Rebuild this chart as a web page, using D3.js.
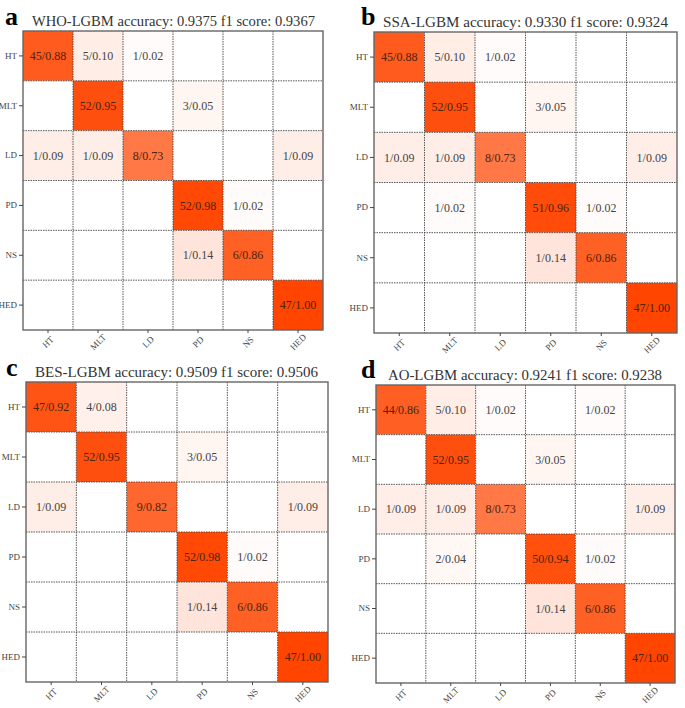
<!DOCTYPE html>
<html>
<head>
<meta charset="utf-8">
<title>LGBM confusion matrices</title>
<script src="https://cdn.jsdelivr.net/npm/d3@7/dist/d3.min.js"></script>
<style>
  body { margin: 0; background: #fff; }
  svg { display: block; }
</style>
</head>
<body>
<svg id="chart" width="685" height="708"></svg>
<script>
// class labels, shared by every panel
const classes = ["HT", "MLT", "LD", "PD", "NS", "HED"];

// panel letters and titles
const letters = ["a", "b", "c", "d"];
const titles = [
  "WHO-LGBM accuracy: 0.9375 f1 score: 0.9367",
  "SSA-LGBM accuracy: 0.9330 f1 score: 0.9324",
  "BES-LGBM accuracy: 0.9509 f1 score: 0.9506",
  "AO-LGBM accuracy: 0.9241 f1 score: 0.9238"
];

// confusion matrix counts (rows = true class, cols = predicted)
const whoCounts = [
  [45, 5, 1, 0, 0, 0],
  [0, 52, 0, 3, 0, 0],
  [1, 1, 8, 0, 0, 1],
  [0, 0, 0, 52, 1, 0],
  [0, 0, 0, 1, 6, 0],
  [0, 0, 0, 0, 0, 47]
];
const ssaCounts = [
  [45, 5, 1, 0, 0, 0],
  [0, 52, 0, 3, 0, 0],
  [1, 1, 8, 0, 0, 1],
  [0, 1, 0, 51, 1, 0],
  [0, 0, 0, 1, 6, 0],
  [0, 0, 0, 0, 0, 47]
];
const besCounts = [
  [47, 4, 0, 0, 0, 0],
  [0, 52, 0, 3, 0, 0],
  [1, 0, 9, 0, 0, 1],
  [0, 0, 0, 52, 1, 0],
  [0, 0, 0, 1, 6, 0],
  [0, 0, 0, 0, 0, 47]
];
const aoCounts = [
  [44, 5, 1, 0, 1, 0],
  [0, 52, 0, 3, 0, 0],
  [1, 1, 8, 0, 0, 1],
  [0, 2, 0, 50, 1, 0],
  [0, 0, 0, 1, 6, 0],
  [0, 0, 0, 0, 0, 47]
];
const allCounts = [whoCounts, ssaCounts, besCounts, aoCounts];

// where each panel's grid sits on the page
const layout = [
  { x: 23, y: 31, w: 300, h: 299, tx: 32, ty: 26, tw: 283, lx: 5, ly: 25 },
  { x: 374, y: 32, w: 303, h: 301, tx: 383, ty: 27, tw: 285, lx: 361, ly: 25 },
  { x: 26, y: 382, w: 302, h: 300, tx: 35, ty: 377, tw: 283, lx: 6, ly: 376 },
  { x: 376, y: 385, w: 299, h: 298, tx: 388, ty: 380, tw: 274, lx: 361, ly: 378 }
];

const svg = d3.select("#chart");
const color = d3.scaleLinear().domain([0, 1]).range(["#ffffff", "#ff4500"]);
const serif = "'Liberation Serif', 'DejaVu Serif', serif";

allCounts.forEach((counts, p) => {
  const L = layout[p];
  const g = svg.append("g").attr("transform", `translate(${L.x},${L.y})`);

  const x = d3.scaleBand().domain(classes).range([0, L.w]);
  const y = d3.scaleBand().domain(classes).range([0, L.h]);

  // flatten matrix into cells with row-normalised ratio
  const cells = [];
  counts.forEach((row, i) => {
    const total = d3.sum(row);
    row.forEach((c, j) => {
      cells.push({ r: classes[i], c: classes[j], n: c, v: c / total });
    });
  });

  g.selectAll("rect.cell")
    .data(cells)
    .join("rect")
    .attr("class", "cell")
    .attr("x", d => x(d.c))
    .attr("y", d => y(d.r))
    .attr("width", x.bandwidth())
    .attr("height", y.bandwidth())
    .attr("fill", d => color(d.v));

  // dotted grid between cells
  const inner = classes.slice(1);
  g.selectAll("line.vg")
    .data(inner)
    .join("line")
    .attr("x1", d => x(d)).attr("x2", d => x(d))
    .attr("y1", 0).attr("y2", L.h)
    .attr("stroke", "#444").attr("stroke-width", 0.9)
    .attr("stroke-dasharray", "1.5,1");
  g.selectAll("line.hg")
    .data(inner)
    .join("line")
    .attr("y1", d => y(d)).attr("y2", d => y(d))
    .attr("x1", 0).attr("x2", L.w)
    .attr("stroke", "#444").attr("stroke-width", 0.9)
    .attr("stroke-dasharray", "1.5,1");

  // cell labels
  g.selectAll("text.val")
    .data(cells.filter(d => d.n > 0))
    .join("text")
    .attr("x", d => x(d.c) + x.bandwidth() / 2)
    .attr("y", d => y(d.r) + y.bandwidth() / 2)
    .attr("dy", "0.35em")
    .attr("text-anchor", "middle")
    .attr("font-family", serif)
    .attr("font-size", "12px")
    .attr("fill", d => d.v > 0.5 ? "#4a2410" : "#444")
    .text(d => `${d.n}/${d.v.toFixed(2)}`);

  // frame
  g.append("rect")
    .attr("width", L.w).attr("height", L.h)
    .attr("fill", "none")
    .attr("stroke", "#666").attr("stroke-width", 1.4);

  // y axis
  const yAxis = g.append("g").call(d3.axisLeft(y).tickSize(4).tickPadding(2));
  yAxis.select(".domain").remove();
  yAxis.selectAll("line").attr("stroke", "#444");
  yAxis.selectAll("text")
    .attr("font-family", serif)
    .attr("font-size", "9px")
    .attr("fill", "#444");

  // x axis with 45 degree labels
  const xAxis = g.append("g")
    .attr("transform", `translate(0,${L.h})`)
    .call(d3.axisBottom(x).tickSize(3).tickPadding(3));
  xAxis.select(".domain").remove();
  xAxis.selectAll("line").attr("stroke", "#444");
  xAxis.selectAll("text")
    .attr("font-family", serif)
    .attr("font-size", "9px")
    .attr("fill", "#444")
    .attr("text-anchor", "middle")
    .attr("y", 0).attr("dy", "0.35em")
    .attr("transform", "translate(0,12) rotate(-45)");

  // title and panel letter
  svg.append("text")
    .attr("x", L.tx).attr("y", L.ty)
    .attr("font-family", serif)
    .attr("font-size", "14px")
    .attr("fill", "#333")
    .attr("textLength", L.tw)
    .attr("lengthAdjust", "spacingAndGlyphs")
    .text(titles[p]);

  svg.append("text")
    .attr("x", L.lx).attr("y", L.ly)
    .attr("font-family", serif)
    .attr("font-weight", "bold")
    .attr("font-size", "26px")
    .attr("fill", "#000")
    .text(letters[p]);
});
</script>
</body>
</html>
